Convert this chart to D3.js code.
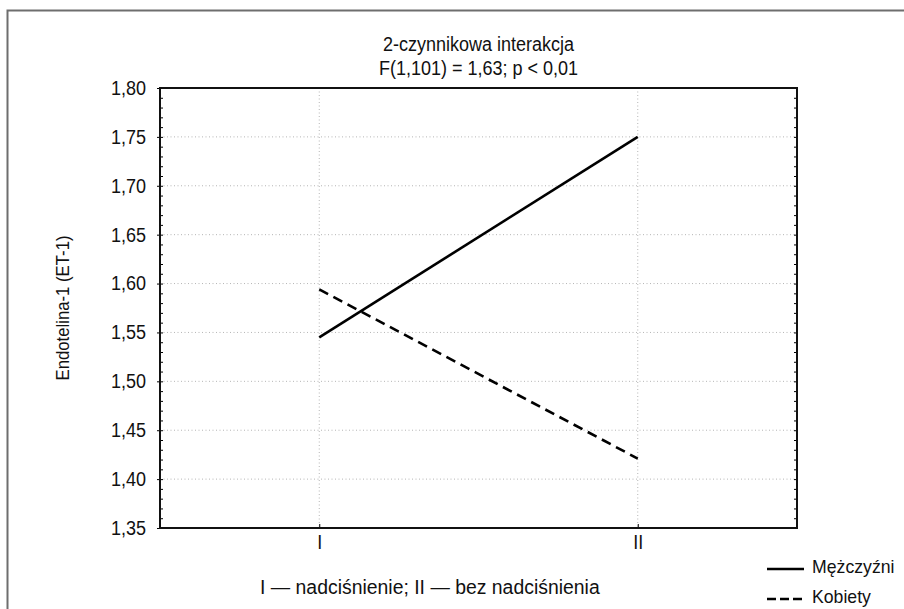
<!DOCTYPE html>
<html>
<head>
<meta charset="utf-8">
<script src="https://cdn.jsdelivr.net/npm/d3@7"></script>
<style>
  body { margin: 0; background: #fff; }
  text { font-family: "Liberation Sans", Arial, sans-serif; fill: #111; }
</style>
</head>
<body>
<script>
const categories = ["I", "II"];
const yTicks = [1.35, 1.40, 1.45, 1.50, 1.55, 1.60, 1.65, 1.70, 1.75, 1.80];
const menValues = [1.545, 1.750];
const womenValues = [1.594, 1.421];
const seriesNames = ["Mężczyźni", "Kobiety"];
const titleLines = ["2-czynnikowa interakcja", "F(1,101) = 1,63; p < 0,01"];
const xTitle = "I — nadciśnienie; II — bez nadciśnienia";
const yTitle = "Endotelina-1 (ET-1)";

const W = 904, H = 609;
const plotLeft = 160, plotRight = 797, plotTop = 88, plotBottom = 528;
const FS = "20px";

// the original uses a condensed face, squeeze the glyphs a bit
function condense(sel, k) {
    sel.each(function () {
        let len = this.getComputedTextLength();
        d3.select(this)
            .attr("textLength", len * k)
            .attr("lengthAdjust", "spacingAndGlyphs");
    });
}

let svg = d3.select("body").append("svg")
    .attr("width", W)
    .attr("height", H);

// outer frame, grey
svg.append("path")
    .attr("d", `M7.5,${H} V10.5 H${W}`)
    .attr("fill", "none")
    .attr("stroke", "#6e6e6e")
    .attr("stroke-width", 2);

let x = d3.scalePoint().domain(categories).range([plotLeft, plotRight]).padding(0.5);
let y = d3.scaleLinear().domain([1.35, 1.80]).range([plotBottom, plotTop]);

const fmt = d => d3.format(".2f")(d).replace(".", ",");

// grid
let grid = svg.append("g").attr("stroke", "#b5b5b5").attr("stroke-dasharray", "1,2.5");
grid.selectAll(".hg")
    .data(yTicks.slice(1, -1))
    .enter().append("line")
    .attr("x1", plotLeft).attr("x2", plotRight)
    .attr("y1", d => y(d)).attr("y2", d => y(d));
grid.selectAll(".vg")
    .data(categories)
    .enter().append("line")
    .attr("x1", d => x(d)).attr("x2", d => x(d))
    .attr("y1", plotTop).attr("y2", plotBottom);

// minor ticks inside left and right
let minor = d3.range(136, 180).map(v => v / 100);
svg.append("g")
    .attr("transform", `translate(${plotLeft},0)`)
    .call(d3.axisRight(y).tickValues(minor).tickSize(3).tickFormat(""))
    .call(g => g.select(".domain").remove());
svg.append("g")
    .attr("transform", `translate(${plotRight},0)`)
    .call(d3.axisLeft(y).tickValues(minor).tickSize(3).tickFormat(""))
    .call(g => g.select(".domain").remove());

// y axis labels
let yAxis = svg.append("g")
    .attr("transform", `translate(${plotLeft},0)`)
    .call(d3.axisLeft(y).tickValues(yTicks).tickSize(3).tickPadding(11).tickFormat(fmt));
yAxis.select(".domain").remove();
yAxis.selectAll("text").style("font-size", FS).attr("fill", "#111")
    .style("font-family", '"Liberation Sans", Arial, sans-serif')
    .call(condense, 0.9);

// x axis
let xAxis = svg.append("g")
    .attr("transform", `translate(0,${plotBottom})`)
    .call(d3.axisBottom(x).tickSizeInner(-4).tickSizeOuter(0).tickPadding(7));
xAxis.select(".domain").remove();
xAxis.selectAll("text").style("font-size", FS).attr("fill", "#111")
    .style("font-family", '"Liberation Sans", Arial, sans-serif')
    .call(condense, 0.9);

// plot frame
svg.append("rect")
    .attr("x", plotLeft).attr("y", plotTop)
    .attr("width", plotRight - plotLeft).attr("height", plotBottom - plotTop)
    .attr("fill", "none")
    .attr("stroke", "#111")
    .attr("stroke-width", 2);

// data lines
let line = d3.line().x((d, i) => x(categories[i])).y(d => y(d));
svg.append("path")
    .datum(menValues)
    .attr("d", line)
    .attr("fill", "none")
    .attr("stroke", "#000")
    .attr("stroke-width", 2.6);
svg.append("path")
    .datum(womenValues)
    .attr("d", line)
    .attr("fill", "none")
    .attr("stroke", "#000")
    .attr("stroke-width", 2.6)
    .attr("stroke-dasharray", "10,6");

// titles
svg.selectAll(".title")
    .data(titleLines)
    .enter().append("text")
    .attr("x", (plotLeft + plotRight) / 2)
    .attr("y", (d, i) => 51 + i * 24)
    .attr("text-anchor", "middle")
    .style("font-size", FS)
    .text(d => d)
    .call(condense, 0.9);

svg.append("text")
    .attr("x", 260)
    .attr("y", 594)
    .style("font-size", FS)
    .text(xTitle)
    .call(condense, 0.97);

svg.append("text")
    .attr("transform", `translate(69,${(plotTop + plotBottom) / 2}) rotate(-90)`)
    .attr("text-anchor", "middle")
    .style("font-size", "19px")
    .text(yTitle)
    .call(condense, 0.88);

// legend
let legend = svg.append("g");
seriesNames.forEach(function (name, i) {
    let ly = 569 + i * 30;
    legend.append("line")
        .attr("x1", 767).attr("x2", 804)
        .attr("y1", ly).attr("y2", ly)
        .attr("stroke", "#000")
        .attr("stroke-width", 2.6)
        .attr("stroke-dasharray", i === 0 ? null : "9,4");
    legend.append("text")
        .attr("x", 812)
        .attr("y", ly + 4)
        .style("font-size", "19px")
        .text(name)
        .call(condense, 0.93);
});
</script>
</body>
</html>
